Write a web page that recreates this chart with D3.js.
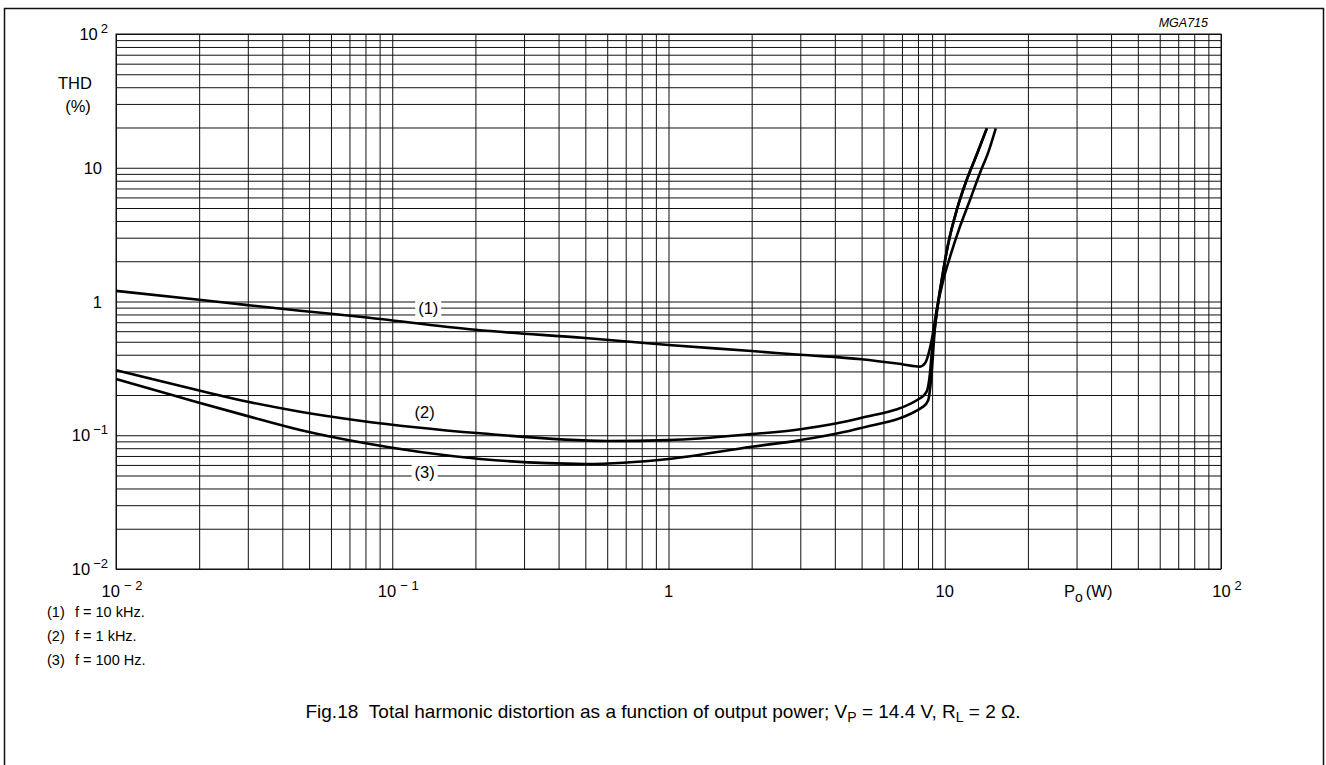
<!DOCTYPE html>
<html>
<head>
<meta charset="utf-8">
<script src="https://cdn.jsdelivr.net/npm/d3@7/dist/d3.min.js"></script>
<style>
  html, body { margin: 0; padding: 0; background: #fff; }
  svg { display: block; font-family: "Liberation Sans", Arial, sans-serif; }
  text { white-space: pre; }
</style>
</head>
<body>
<svg id="chart" width="1326" height="765"></svg>
<script>
// ---- data ----
const power1 = [0.01, 0.02, 0.03, 0.0464, 0.0764, 0.2, 0.5, 1, 2, 3, 5, 7, 8.14, 8.48, 8.97, 9.35, 9.88, 10.45, 11.35, 12.34, 13.4, 14.4, 15.3];
const thd1   = [1.2, 1.03, 0.94, 0.854, 0.77, 0.615, 0.533, 0.473, 0.426, 0.40, 0.37, 0.34, 0.326, 0.345, 0.515, 0.864, 1.45, 2.16, 3.63, 5.74, 9.09, 13.2, 19.7];

const power2 = [0.01, 0.02, 0.03, 0.0464, 0.0764, 0.208, 0.6, 1, 2, 3, 4.93, 8.14, 8.6, 8.84, 8.97, 9.22, 9.75, 10.3, 11.05, 12.0, 13.05, 14.2];
const thd2   = [0.307, 0.216, 0.178, 0.15, 0.1285, 0.1034, 0.0906, 0.092, 0.102, 0.111, 0.134, 0.189, 0.2117, 0.29, 0.41, 0.648, 1.45, 2.72, 4.83, 8.1, 12.5, 19.7];

const power3 = [0.01, 0.02, 0.03, 0.0464, 0.0764, 0.208, 0.5, 1, 2, 3, 4.93, 8.36, 8.72, 8.92, 9.22, 9.75, 10.3, 11.05, 12.0, 13.05, 14.2];
const thd3   = [0.263, 0.175, 0.139, 0.1095, 0.0886, 0.0665, 0.061, 0.0665, 0.082, 0.092, 0.1127, 0.1635, 0.1836, 0.259, 0.648, 1.45, 2.72, 4.83, 8.1, 12.5, 19.7];

const curveLabels = ["(1)", "(2)", "(3)"];
const curveLabelPos = [[0.135, 0.9], [0.131, 0.149], [0.131, 0.0532]]; // [P, THD] anchors of labels
const curveLabelBg = [true, false, true];

const xTickLabels = [{v: 0.01, base: "10", exp: "\u2212 2"}, {v: 0.1, base: "10", exp: "\u2212 1"}, {v: 1, base: "1", exp: ""}, {v: 10, base: "10", exp: ""}, {v: 100, base: "10", exp: "2"}];
const yTickLabels = [{v: 100, base: "10", exp: "2"}, {v: 10, base: "10", exp: ""}, {v: 1, base: "1", exp: ""}, {v: 0.1, base: "10", exp: "\u22121"}, {v: 0.01, base: "10", exp: "\u22122"}];

const legendItems = ["(1)", "(2)", "(3)"];
const legendTexts = ["f = 10 kHz.", "f = 1 kHz.", "f = 100 Hz."];

// ---- layout ----
const svg = d3.select("#chart");
const L = 116, R = 1221, T = 34, B = 569;
const x = d3.scaleLog().domain([0.01, 100]).range([L, R]);
const y = d3.scaleLog().domain([0.01, 100]).range([B, T]);
const FS = 16.5;

// frame
svg.append("path")
  .attr("d", `M4.5,770 V8.5 H1323.5 V770`)
  .attr("fill", "none").attr("stroke", "#111").attr("stroke-width", 1.5);

// grid values
const gridVals = [];
[0.01, 0.1, 1, 10].forEach(d => { for (let k = 1; k <= 9; k++) gridVals.push(+(d * k).toPrecision(3)); });
gridVals.push(100);

const gx = svg.append("g").attr("transform", `translate(0,${B})`)
  .call(d3.axisBottom(x).tickValues(gridVals).tickSize(-(B - T)).tickFormat(""));
const gy = svg.append("g").attr("transform", `translate(${L},0)`)
  .call(d3.axisLeft(y).tickValues(gridVals).tickSize(-(R - L)).tickFormat(""));
[gx, gy].forEach(g => {
  g.select(".domain").remove();
  g.selectAll(".tick line").attr("stroke", "#111").attr("stroke-width", 1);
});
svg.append("rect").attr("x", L).attr("y", T).attr("width", R - L).attr("height", B - T)
  .attr("fill", "none").attr("stroke", "#111").attr("stroke-width", 1);

// label backgrounds for curve labels (break the gridlines)
curveLabels.forEach((lab, i) => {
  if (curveLabelBg[i]) {
    svg.append("rect")
      .attr("x", x(curveLabelPos[i][0]) - 13).attr("y", y(curveLabelPos[i][1]) - 12)
      .attr("width", 26).attr("height", 23).attr("fill", "#fff");
  }
});

// curves
const line = d3.line().x(d => x(d[0])).y(d => y(d[1])).curve(d3.curveMonotoneX);
[[power1, thd1], [power2, thd2], [power3, thd3]].forEach(([p, t]) => {
  svg.append("path")
    .datum(p.map((v, i) => [v, t[i]]))
    .attr("d", line)
    .attr("fill", "none").attr("stroke", "#000").attr("stroke-width", 2.6)
    .attr("stroke-linejoin", "round").attr("stroke-linecap", "butt");
});

// curve labels
curveLabels.forEach((lab, i) => {
  svg.append("text")
    .attr("x", x(curveLabelPos[i][0])).attr("y", y(curveLabelPos[i][1]) + 6)
    .attr("text-anchor", "middle").attr("font-size", FS).text(lab);
});

// y tick labels
yTickLabels.forEach(t => {
  const tx = svg.append("text").attr("font-size", FS).attr("y", y(t.v) + 6).attr("text-anchor", "end");
  if (t.exp) {
    tx.attr("x", 108);
    tx.append("tspan").text(t.base);
    tx.append("tspan").attr("dx", 3).attr("dy", -7).attr("font-size", 13).text(t.exp);
  } else {
    tx.attr("x", 102).text(t.base);
  }
});

// y axis title
svg.append("text").attr("x", 75).attr("y", 89).attr("font-size", FS).attr("text-anchor", "middle").text("THD");
svg.append("text").attr("x", 78).attr("y", 112).attr("font-size", FS).attr("text-anchor", "middle").text("(%)");

// x tick labels
xTickLabels.forEach(t => {
  const tx = svg.append("text").attr("font-size", FS).attr("y", 597).attr("text-anchor", "middle").attr("x", x(t.v) + (t.exp ? 6 : 0));
  tx.append("tspan").text(t.base);
  if (t.exp) tx.append("tspan").attr("dx", 4).attr("dy", -7).attr("font-size", 13).text(t.exp);
});

// x axis title
const xt = svg.append("text").attr("x", 1064).attr("y", 597).attr("font-size", FS);
xt.append("tspan").text("P");
xt.append("tspan").attr("dy", 5).attr("font-size", 14).text("o");
xt.append("tspan").attr("dy", -5).attr("dx", 3).text("(W)");

// figure code
svg.append("text").attr("x", 1208).attr("y", 27).attr("font-size", 12.5).attr("font-style", "italic")
  .attr("text-anchor", "end").text("MGA715");

// legend
legendItems.forEach((it, i) => {
  svg.append("text").attr("x", 47).attr("y", 617 + i * 24).attr("font-size", 14.5).text(it);
  svg.append("text").attr("x", 75).attr("y", 617 + i * 24).attr("font-size", 14.5).text(legendTexts[i]);
});

// caption
const cap = svg.append("text").attr("x", 663).attr("y", 718).attr("font-size", 19).attr("text-anchor", "middle");
cap.append("tspan").text("Fig.18\u00A0\u00A0Total harmonic distortion as a function of output power; V");
cap.append("tspan").attr("dy", 4).attr("font-size", 14).text("P");
cap.append("tspan").attr("dy", -4).text(" = 14.4 V, R");
cap.append("tspan").attr("dy", 4).attr("font-size", 14).text("L");
cap.append("tspan").attr("dy", -4).text(" = 2 \u03A9.");
</script>
</body>
</html>
